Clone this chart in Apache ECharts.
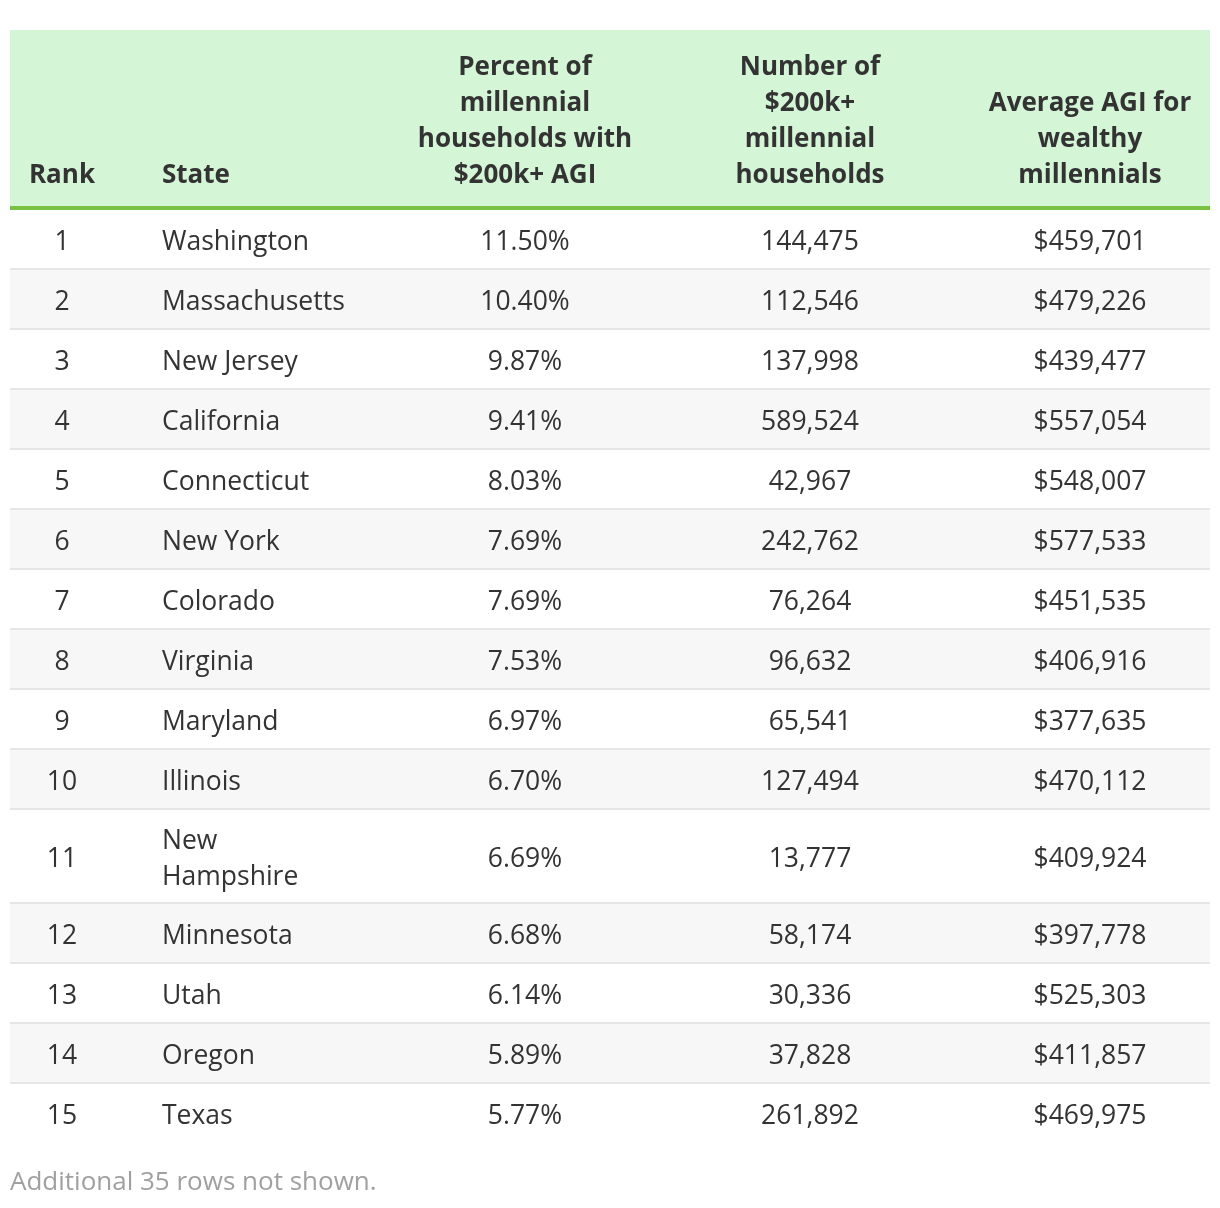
<!DOCTYPE html>
<html><head><meta charset="utf-8">
<script src="https://cdn.jsdelivr.net/npm/echarts@6/dist/echarts.min.js"></script>
<style>html,body{margin:0;padding:0;background:#fff}#chart{width:1220px;height:1208px}</style>
</head><body><div id="chart"></div>
<script>
// ---- data ----
const headers = ['Rank', 'State', 'Percent of millennial households with $200k+ AGI', 'Number of $200k+ millennial households', 'Average AGI for wealthy millennials'];
const ranks = [1, 2, 3, 4, 5, 6, 7, 8, 9, 10, 11, 12, 13, 14, 15];
const states = ['Washington', 'Massachusetts', 'New Jersey', 'California', 'Connecticut', 'New York', 'Colorado', 'Virginia', 'Maryland', 'Illinois', 'New Hampshire', 'Minnesota', 'Utah', 'Oregon', 'Texas'];
const pctHouseholds200k = [11.50, 10.40, 9.87, 9.41, 8.03, 7.69, 7.69, 7.53, 6.97, 6.70, 6.69, 6.68, 6.14, 5.89, 5.77];
const numHouseholds200k = [144475, 112546, 137998, 589524, 42967, 242762, 76264, 96632, 65541, 127494, 13777, 58174, 30336, 37828, 261892];
const avgAGI = [459701, 479226, 439477, 557054, 548007, 577533, 451535, 406916, 377635, 470112, 409924, 397778, 525303, 411857, 469975];
const footnote = 'Additional 35 rows not shown.';

// ---- layout / style ----
const FONT_FAMILY = '"Open Sans", "Noto Sans", sans-serif';
const BODY_FONT = '26.5px ' + FONT_FAMILY;
const HEAD_FONT = 'bold 26px ' + FONT_FAMILY;
const TABLE_W = 1200;
const HEADER_H = 180;
const ROW_H = 60, EXTRA_LINE_H = 34, LINE_H = 36;
// column anchors in axis units (grid width = table width)
const cols = [
  {align: 'center', x: 52,   w: 100},
  {align: 'left',   x: 152,  w: 190},
  {align: 'center', x: 515,  w: 235},
  {align: 'center', x: 800,  w: 210},
  {align: 'center', x: 1080, w: 225}
];

const fmtInt = v => v.toLocaleString('en-US');
const cellTexts = ranks.map((r, i) => [String(r), states[i], pctHouseholds200k[i].toFixed(2) + '%', fmtInt(numHouseholds200k[i]), '$' + fmtInt(avgAGI[i])]);

// word-wrap a text for a given width
const ctx = document.createElement('canvas').getContext('2d');
function wrap(text, font, width) {
  ctx.font = font;
  const out = [];
  let cur = '';
  text.split(' ').forEach(w => {
    const t = cur ? cur + ' ' + w : w;
    if (ctx.measureText(t).width > width && cur) { out.push(cur); cur = w; } else { cur = t; }
  });
  out.push(cur);
  return out;
}
const headLines = headers.map((h, c) => wrap(h, HEAD_FONT, cols[c].w));
const cellLines = cellTexts.map(row => row.map((t, c) => wrap(t, BODY_FONT, cols[c].w)));
const rowLines = cellLines.map(row => Math.max(...row.map(l => l.length)));
const rowTop = [], rowBottom = [];
let acc = HEADER_H;
rowLines.forEach(n => { rowTop.push(acc); acc += ROW_H + EXTRA_LINE_H * (n - 1); rowBottom.push(acc); });

const chart = echarts.init(document.getElementById('chart'), null, {renderer: 'canvas'});

function headerItem(params, api) {
  const p0 = api.coord([0, 0]);
  const p1 = api.coord([TABLE_W, HEADER_H]);
  const children = [
    {type: 'rect', shape: {x: p0[0], y: p0[1], width: p1[0] - p0[0], height: p1[1] - p0[1]}, style: {fill: '#d5f5d7'}},
    {type: 'rect', shape: {x: p0[0], y: p1[1] - 4, width: p1[0] - p0[0], height: 4}, style: {fill: '#78c143'}}
  ];
  headLines.forEach((lines, c) => {
    const pt = api.coord([cols[c].x, HEADER_H - 16]);
    children.push({type: 'text', x: pt[0], y: pt[1], style: {
      text: lines.join('\n'), font: HEAD_FONT, fill: '#333333', align: cols[c].align, verticalAlign: 'bottom', lineHeight: LINE_H
    }});
  });
  return {type: 'group', children};
}

function rowItem(params, api) {
  const i = params.dataIndex;
  const p0 = api.coord([0, api.value(1)]);
  const p1 = api.coord([TABLE_W, api.value(2)]);
  const children = [];
  children.push({type: 'rect', shape: {x: p0[0], y: p0[1], width: p1[0] - p0[0], height: p1[1] - p0[1]}, style: {fill: i % 2 === 1 ? '#f7f7f7' : '#ffffff'}});
  if (i < ranks.length - 1) {
    children.push({type: 'rect', shape: {x: p0[0], y: p1[1] - 2, width: p1[0] - p0[0], height: 2}, style: {fill: '#e6e6e6'}});
  }
  const midY = (api.value(1) + api.value(2)) / 2 + 2;
  cellLines[i].forEach((lines, c) => {
    const pt = api.coord([cols[c].x, midY]);
    children.push({type: 'text', x: pt[0], y: pt[1], style: {
      text: lines.join('\n'), font: BODY_FONT, fill: '#333333', align: cols[c].align, verticalAlign: 'middle', lineHeight: LINE_H
    }});
  });
  return {type: 'group', children};
}

chart.setOption({
  animation: false,
  title: {text: footnote, left: 10, top: 1168, padding: 0, textStyle: {fontFamily: FONT_FAMILY, fontSize: 26, fontWeight: 'normal', color: '#a0a0a0', lineHeight: 30}},
  grid: {left: 10, right: 10, top: 30, bottom: 0},
  xAxis: {type: 'value', min: 0, max: TABLE_W, show: false},
  yAxis: {type: 'value', min: 0, max: 1178, inverse: true, show: false},
  series: [
    {type: 'custom', coordinateSystem: 'cartesian2d', data: [[0, 0, HEADER_H]], renderItem: headerItem, silent: true},
    {type: 'custom', coordinateSystem: 'cartesian2d', data: ranks.map((r, i) => [r, rowTop[i], rowBottom[i]]), renderItem: rowItem, silent: true, encode: {x: 0, y: 1}}
  ]
});
</script></body></html>
